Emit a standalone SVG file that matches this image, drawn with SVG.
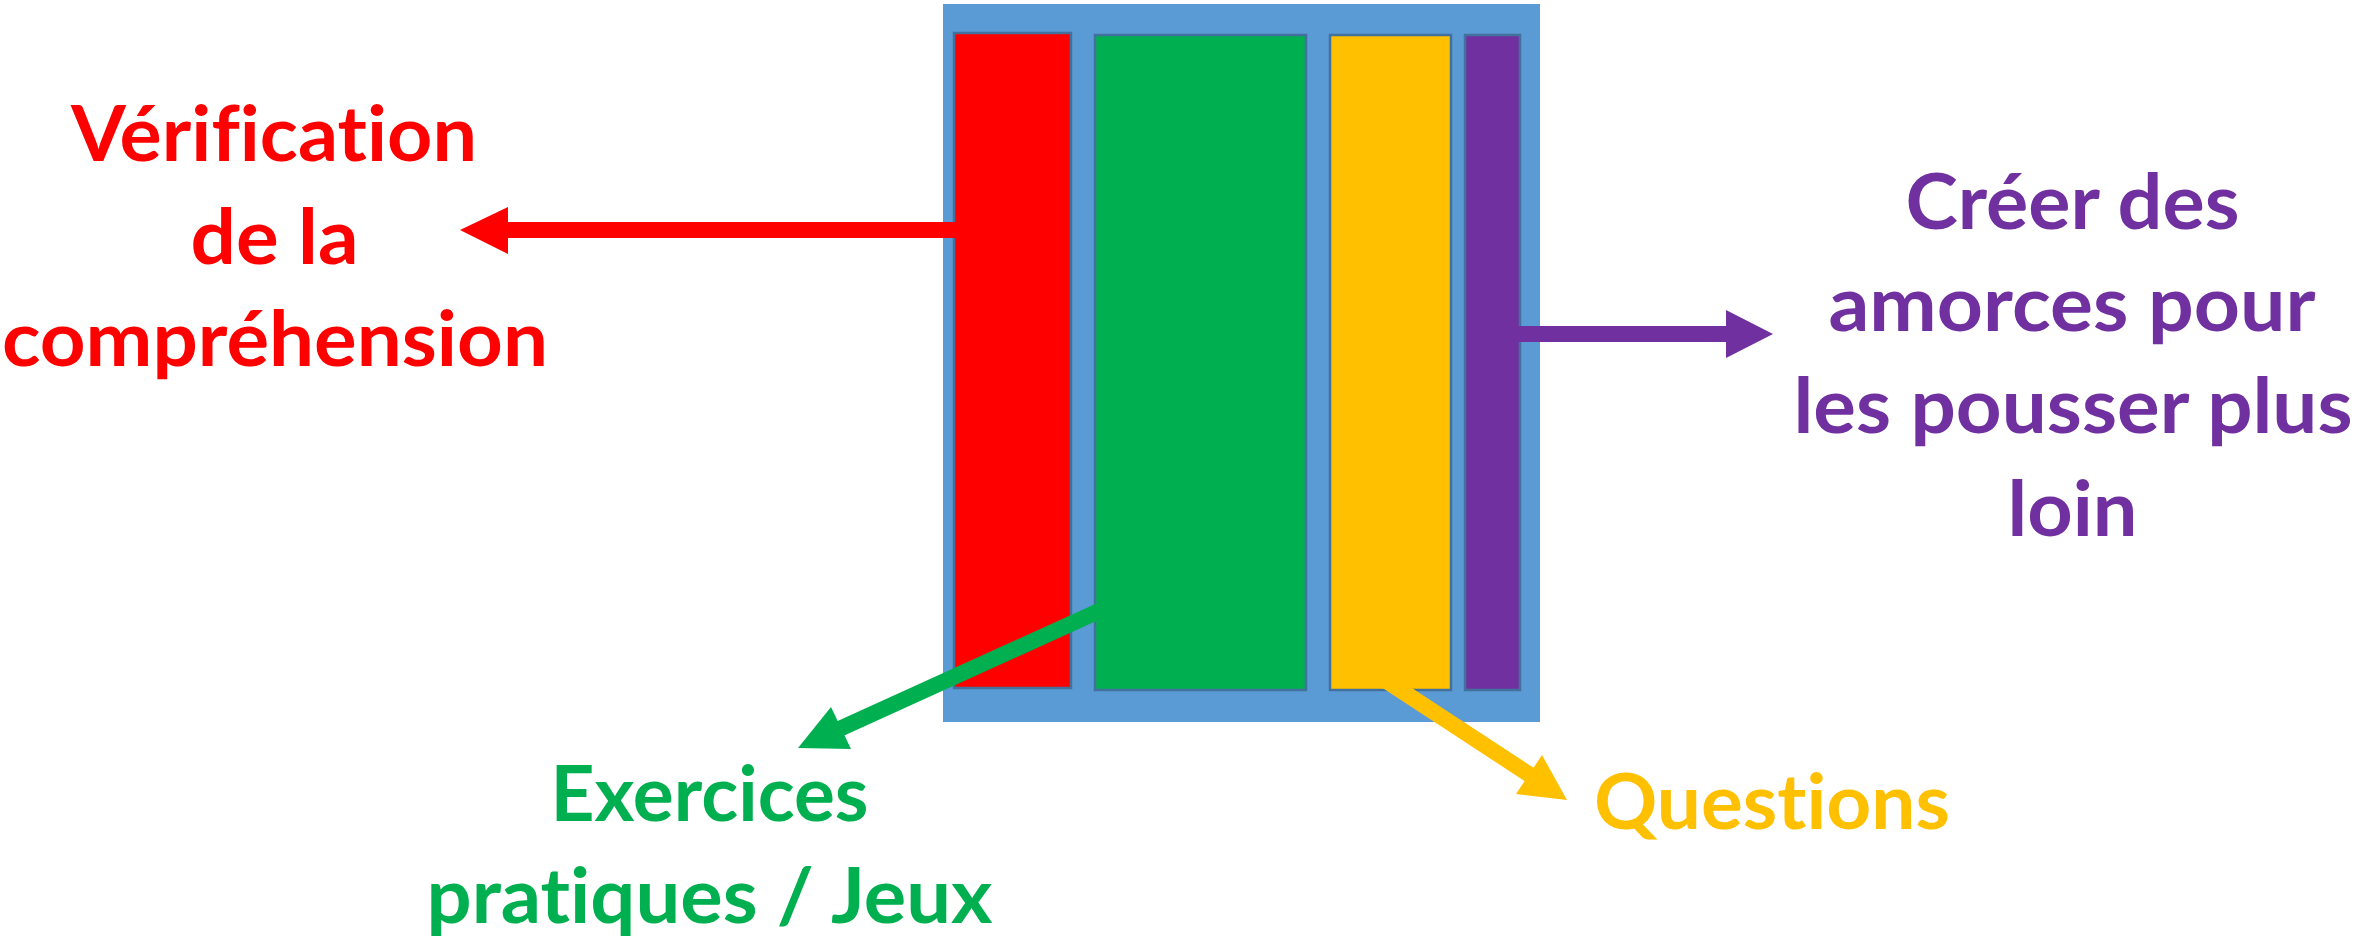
<svg xmlns="http://www.w3.org/2000/svg" width="2356" height="936" viewBox="0 0 2356 936">
<style>
.bar{stroke:#41719C;stroke-width:2.5}
.lbl{font-family:Lato,"Open Sans","Liberation Sans",sans-serif;font-weight:bold;font-size:76px;text-anchor:middle;font-variant-ligatures:none;font-feature-settings:"liga" 0,"dlig" 0}
.con{fill:none;stroke-width:16;stroke-linecap:butt}
</style>
<rect width="2356" height="936" fill="#FFFFFF"/>
<g id="frame"><rect x="943" y="4" width="597" height="718" fill="#5B9BD5"/></g>
<g id="bar-red"><rect class="bar" x="954" y="33" width="117" height="655" fill="#FF0000"/></g>
<g id="bar-green"><rect class="bar" x="1095" y="35" width="211" height="655" fill="#00B050"/></g>
<g id="bar-yellow"><rect class="bar" x="1330" y="35" width="121" height="655" fill="#FFC000"/></g>
<g id="bar-purple"><rect class="bar" x="1465" y="35" width="55" height="655" fill="#7030A0"/></g>
<g id="connectors">
<line class="con" x1="962" y1="230" x2="504" y2="230" stroke="#FF0000"/>
<polygon points="460,230 508,207 508,254" fill="#FF0000"/>
<line class="con" x1="1500" y1="334" x2="1730" y2="334" stroke="#7030A0"/>
<polygon points="1773,334 1726,310 1726,358" fill="#7030A0"/>
<line class="con" x1="1110" y1="606" x2="836" y2="730.5" stroke="#00B050"/>
<polygon points="798,748 831,707 851,749" fill="#00B050"/>
<line class="con" x1="1385" y1="680" x2="1533" y2="777" stroke="#FFC000"/>
<polygon points="1567,800 1542,755 1516,794" fill="#FFC000"/>
</g>
<g id="label-red" fill="#FF0000">
<text class="lbl" x="274" y="161" textLength="406" lengthAdjust="spacingAndGlyphs">Vérification</text>
<text class="lbl" x="274.5" y="264" textLength="168" lengthAdjust="spacingAndGlyphs">de la</text>
<text class="lbl" x="275" y="366" textLength="546" lengthAdjust="spacingAndGlyphs">compréhension</text>
</g>
<g id="label-purple" fill="#7030A0">
<text class="lbl" x="2072.5" y="229" textLength="334" lengthAdjust="spacingAndGlyphs">Créer des</text>
<text class="lbl" x="2072" y="331" textLength="487" lengthAdjust="spacingAndGlyphs">amorces pour</text>
<text class="lbl" x="2073" y="433" textLength="559" lengthAdjust="spacingAndGlyphs">les pousser plus</text>
<text class="lbl" x="2072.5" y="536" textLength="130" lengthAdjust="spacingAndGlyphs">loin</text>
</g>
<g id="label-green" fill="#00B050">
<text class="lbl" x="709.5" y="821" textLength="318" lengthAdjust="spacingAndGlyphs">Exercices</text>
<text class="lbl" x="709.5" y="923" textLength="566" lengthAdjust="spacingAndGlyphs">pratiques / Jeux</text>
</g>
<g id="label-yellow" fill="#FFC000">
<text class="lbl" x="1772" y="829" textLength="356" lengthAdjust="spacingAndGlyphs">Questions</text>
</g>
</svg>
